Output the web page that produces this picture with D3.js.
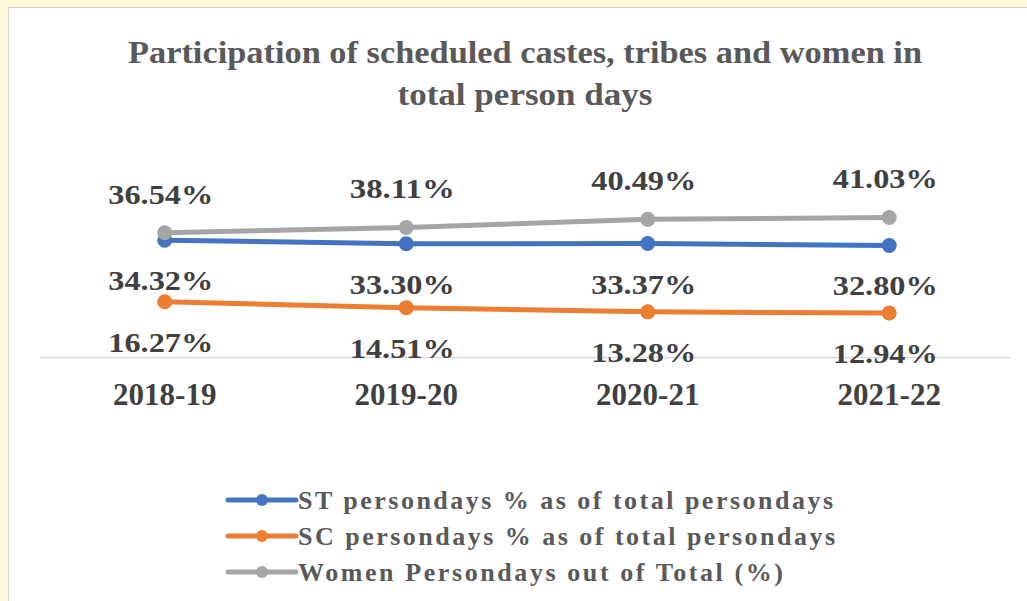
<!DOCTYPE html>
<html>
<head>
<meta charset="utf-8">
<script src="https://cdn.jsdelivr.net/npm/d3@7"></script>
<style>
  html, body { margin: 0; padding: 0; background: #fff8d8; }
  svg { display: block; }
</style>
</head>
<body>
<div id="chart"></div>
<script>
// data
var years = ["2018-19", "2019-20", "2020-21", "2021-22"];
var stValues = [34.32, 33.30, 33.37, 32.80];
var scValues = [16.27, 14.51, 13.28, 12.94];
var womenValues = [36.54, 38.11, 40.49, 41.03];
var seriesNames = [
    "ST persondays % as of total persondays",
    "SC persondays % as of total persondays",
    "Women Persondays out of Total (%)"
];
var titleLines = ["Participation of scheduled castes, tribes and women in", "total person days"];

let width = 1027, height = 601;
let svg = d3.select('#chart').append('svg')
    .attr('width', width)
    .attr('height', height);

// white panel with thin border, yellow page showing at top/left
svg.append('rect')
    .attr('x', 8.5).attr('y', 7.5)
    .attr('width', width).attr('height', height)
    .attr('fill', '#fff')
    .attr('stroke', '#d6d6d6');

let series = [
    { name: seriesNames[0], values: stValues, color: '#4472c4', labelDy: 41 },
    { name: seriesNames[1], values: scValues, color: '#ed7d31', labelDy: 41 },
    { name: seriesNames[2], values: womenValues, color: '#a5a5a5', labelDy: -38 }
];

let x = d3.scaleBand().domain(years).range([44, 1010]).padding(0);
let y = d3.scaleLinear().domain([0, 45]).range([357, 204]);

// title
let title = svg.append('g')
    .attr('font-family', '"Liberation Serif", "Times New Roman", serif')
    .attr('font-weight', 'bold')
    .attr('fill', '#595959')
    .attr('text-anchor', 'middle');
title.selectAll('text')
    .data(titleLines)
    .enter().append('text')
    .attr('x', 525)
    .attr('y', (d, i) => 63 + i * 42)
    .attr('font-size', '31px')
    .attr('textLength', (d, i) => i === 0 ? 794 : 255)
    .attr('lengthAdjust', 'spacingAndGlyphs')
    .text(d => d);

// category axis line
svg.append('line')
    .attr('x1', 40).attr('x2', 1010)
    .attr('y1', y(0) + 0.5).attr('y2', y(0) + 0.5)
    .attr('stroke', '#d9d9d9')
    .attr('stroke-width', 1.5);

// x labels
svg.append('g').selectAll('text')
    .data(years)
    .enter().append('text')
    .attr('x', d => x(d) + x.bandwidth() / 2)
    .attr('y', 405)
    .attr('text-anchor', 'middle')
    .attr('font-family', '"Liberation Serif", "Times New Roman", serif')
    .attr('font-weight', 'bold')
    .attr('font-size', '31px')
    .attr('fill', '#404040')
    .text(d => d);

let line = d3.line()
    .x((d, i) => x(years[i]) + x.bandwidth() / 2)
    .y(d => y(d));

let sGroup = svg.selectAll('.series')
    .data(series)
    .enter().append('g')
    .attr('class', 'series');

sGroup.append('path')
    .attr('d', d => line(d.values))
    .attr('fill', 'none')
    .attr('stroke', d => d.color)
    .attr('stroke-width', 5)
    .attr('stroke-linecap', 'round');

sGroup.selectAll('circle')
    .data(d => d.values.map((v, i) => ({ v: v, i: i, color: d.color })))
    .enter().append('circle')
    .attr('cx', d => x(years[d.i]) + x.bandwidth() / 2)
    .attr('cy', d => y(d.v))
    .attr('r', 7.5)
    .attr('fill', d => d.color);

// data labels
sGroup.selectAll('text')
    .data(d => d.values.map((v, i) => ({ v: v, i: i, dy: d.labelDy })))
    .enter().append('text')
    .attr('x', d => x(years[d.i]) + x.bandwidth() / 2 - 4)
    .attr('y', d => y(d.v) + d.dy + 9)
    .attr('text-anchor', 'middle')
    .attr('font-family', '"Liberation Serif", "Times New Roman", serif')
    .attr('font-weight', 'bold')
    .attr('font-size', '27px')
    .attr('fill', '#404040')
    .attr('textLength', 105)
    .attr('lengthAdjust', 'spacingAndGlyphs')
    .text(d => d.v.toFixed(2) + '%');

// legend
let legendWidths = [535, 537, 485];
let legend = svg.append('g')
    .attr('transform', 'translate(228,500)');
let item = legend.selectAll('.legend-item')
    .data(series)
    .enter().append('g')
    .attr('class', 'legend-item')
    .attr('transform', (d, i) => `translate(0,${i * 36})`);
item.append('line')
    .attr('x1', 0).attr('x2', 68)
    .attr('stroke', d => d.color)
    .attr('stroke-width', 5)
    .attr('stroke-linecap', 'round');
item.append('circle')
    .attr('cx', 34).attr('r', 6)
    .attr('fill', d => d.color);
item.append('text')
    .attr('x', 70)
    .attr('y', 9)
    .attr('font-family', '"Liberation Serif", "Times New Roman", serif')
    .attr('font-weight', 'bold')
    .attr('font-size', '26px')
    .attr('fill', '#595959')
    .attr('textLength', (d, i) => legendWidths[i])
    .attr('lengthAdjust', 'spacing')
    .text(d => d.name);
</script>
</body>
</html>
